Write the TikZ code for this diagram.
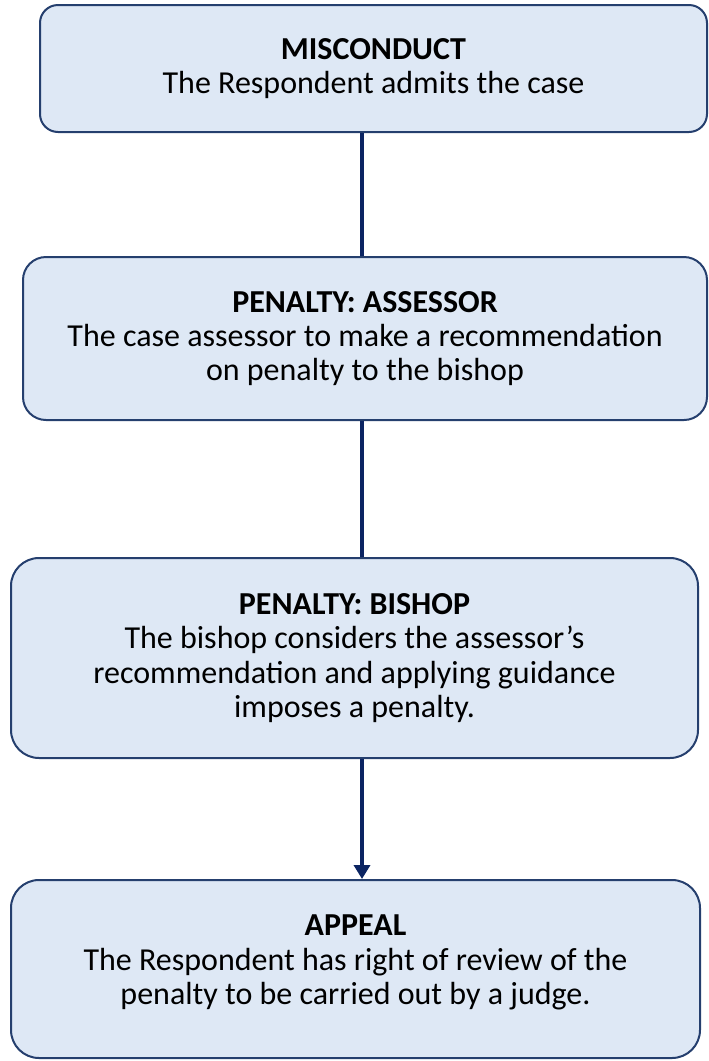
\documentclass[tikz,border=0pt]{standalone}
\usepackage{fontspec}
\setmainfont{Carlito}
\usetikzlibrary{arrows.meta}
\definecolor{boxfill}{HTML}{DEE8F5}
\definecolor{boxline}{HTML}{253F6E}
\definecolor{linkblue}{HTML}{0B2462}
\begin{document}
\begin{tikzpicture}[x=0.5pt,y=-0.5pt,
    stage/.style={draw=boxline,line width=1pt,fill=boxfill,align=center,inner sep=0pt,
      font=\fontsize{16}{17.2}\selectfont},
    link/.style={draw=linkblue,line width=2pt}]
  \useasboundingbox (0,0) rectangle (708,1061);
  \coordinate (spine) at (362,0);
  % the four stages
  \node[stage,rounded corners=9pt,minimum width=333.5pt,minimum height=63.5pt]
    (misconduct) at (373.5,68.5) {\textbf{MISCONDUCT}\\The Respondent admits the case};
  \node[stage,rounded corners=11.5pt,minimum width=342pt,minimum height=81.5pt]
    (assessor) at (365,338.5) {\textbf{PENALTY: ASSESSOR}\\The case assessor to make a recommendation\\on penalty to the bishop};
  \node[stage,rounded corners=14pt,minimum width=343.5pt,minimum height=100pt]
    (bishop) at (354.5,658) {\textbf{PENALTY: BISHOP}\\The bishop considers the assessor’s\\recommendation and applying guidance\\imposes a penalty.};
  \node[stage,rounded corners=14pt,minimum width=344.5pt,minimum height=89pt]
    (appeal) at (355.5,969) {\textbf{APPEAL}\\The Respondent has right of review of the\\penalty to be carried out by a judge.\rule[-9pt]{0pt}{0pt}};
  % connectors
  \draw[link] (misconduct.south -| spine) -- (assessor.north -| spine);
  \draw[link] (assessor.south -| spine) -- (bishop.north -| spine);
  \draw[link,-{Triangle[width=8pt,length=7pt]}] (bishop.south -| spine) -- (appeal.north -| spine);
\end{tikzpicture}
\end{document}
